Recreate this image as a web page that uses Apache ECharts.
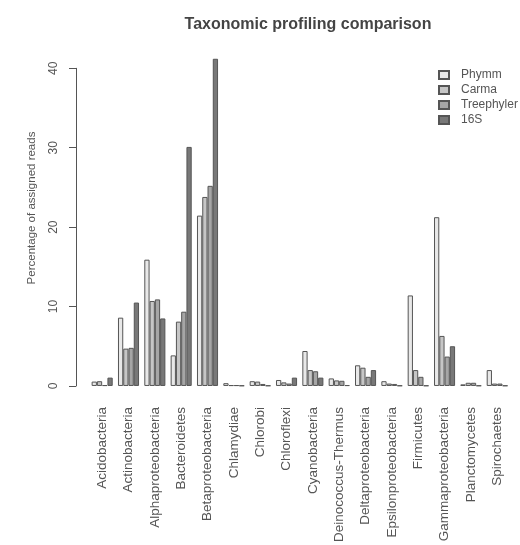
<!DOCTYPE html>
<html>
<head>
<meta charset="utf-8">
<script src="https://cdn.jsdelivr.net/npm/echarts@6/dist/echarts.min.js"></script>
<style>html,body{margin:0;padding:0;background:#fff}#c{width:520px;height:545px}</style>
</head>
<body>
<div id="c"></div>
<script>
const categories = ["Acidobacteria","Actinobacteria","Alphaproteobacteria","Bacteroidetes","Betaproteobacteria","Chlamydiae","Chlorobi","Chloroflexi","Cyanobacteria","Deinococcus-Thermus","Deltaproteobacteria","Epsilonproteobacteria","Firmicutes","Gammaproteobacteria","Planctomycetes","Spirochaetes"];
const phymm      = [0.55, 8.6, 15.9, 3.85, 21.45, 0.35, 0.6, 0.75, 4.4, 0.95, 2.6, 0.6, 11.4, 21.25, 0.2, 2.0];
const carma      = [0.6, 4.7, 10.7, 8.1, 23.8, 0.1, 0.55, 0.45, 2.0, 0.7, 2.3, 0.3, 2.0, 6.3, 0.4, 0.3];
const treephyler = [0.1, 4.8, 10.9, 9.35, 25.2, 0.1, 0.25, 0.3, 1.85, 0.65, 1.15, 0.25, 1.15, 3.7, 0.4, 0.3];
const s16        = [1.05, 10.5, 8.5, 30.1, 41.2, 0.05, 0.05, 1.05, 1.05, 0.1, 2.0, 0.05, 0.05, 5.0, 0.05, 0.05];
const seriesNames = ["Phymm","Carma","Treephyler","16S"];
const yTicks = [0, 10, 20, 30, 40];

const colors = ["#e8e8e8","#c6c6c6","#a6a6a6","#787878"];
const data = [phymm, carma, treephyler, s16];

const chart = echarts.init(document.getElementById('c'));
chart.setOption({
  animation: false,
  backgroundColor: '#fff',
  title: {
    text: 'Taxonomic profiling comparison',
    left: 303, top: 12, textAlign: 'center',
    textStyle: {fontFamily: 'Liberation Sans', fontSize: 16, fontWeight: 'bold', color: '#444'}
  },
  legend: {
    data: seriesNames,
    orient: 'vertical',
    left: 438, top: 68, padding: 0,
    icon: 'rect', itemWidth: 10, itemHeight: 8, itemGap: 1,
    textStyle: {fontFamily: 'Liberation Sans', fontSize: 12, color: '#555', lineHeight: 14, padding: [0, 0, 0, 7]}
  },
  graphic: [{
    type: 'text',
    x: 32, y: 208,
    rotation: Math.PI / 2,
    style: {
      text: 'Percentage of assigned reads',
      font: '11.5px "Liberation Sans"',
      fill: '#555',
      align: 'center', verticalAlign: 'middle'
    }
  }],
  grid: {left: 89, right: 9.6, top: 68.3, bottom: 158.3},
  xAxis: {
    type: 'category',
    data: categories,
    axisLine: {show: false},
    axisTick: {show: false},
    axisLabel: {rotate: 90, interval: 0, margin: 21, fontFamily: 'Liberation Sans', fontSize: 13.5, color: '#555'}
  },
  yAxis: {
    type: 'value',
    min: yTicks[0], max: yTicks[yTicks.length - 1], interval: 10,
    offset: 13,
    axisLine: {show: true, lineStyle: {color: '#555', width: 1}},
    axisTick: {show: true, length: 7, lineStyle: {color: '#555'}},
    axisLabel: {rotate: 90, margin: 16, fontFamily: 'Liberation Sans', fontSize: 12, color: '#555'},
    splitLine: {show: false}
  },
  series: seriesNames.map((n, i) => ({
    name: n,
    type: 'bar',
    data: data[i],
    clip: false,
    barGap: '0%',
    barCategoryGap: '20%',
    itemStyle: {color: colors[i], borderColor: '#555', borderWidth: 1}
  }))
});
</script>
</body>
</html>
